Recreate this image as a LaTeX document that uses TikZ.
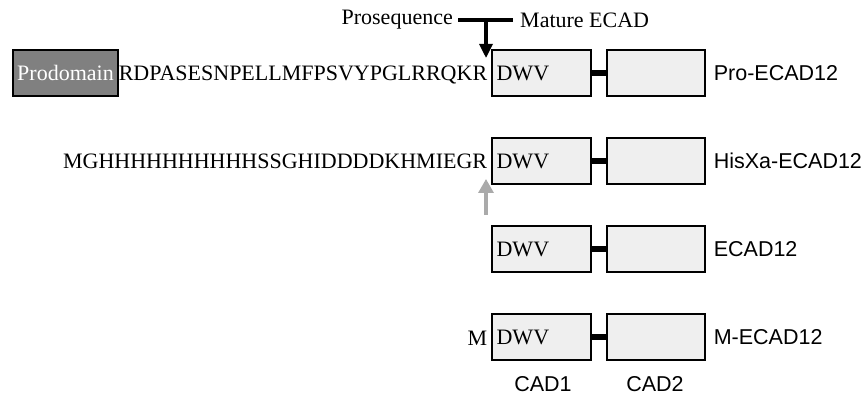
\documentclass[tikz,border=0pt]{standalone}
\usepackage{fontspec}
\setmainfont{Liberation Serif}
\newfontfamily\labsans{Liberation Sans}
\usetikzlibrary{calc,arrows.meta}
\definecolor{boxfill}{HTML}{EFEFEF}
\definecolor{prodfill}{HTML}{808080}
\definecolor{cleave}{HTML}{AAAAAA}
\begin{document}
\begin{tikzpicture}[x=1pt,y=1pt,
  every node/.style={font=\fontsize{22}{24}\selectfont},
  cadbox/.style={draw=black,line width=1.2pt,fill=boxfill,minimum height=46pt,inner sep=0pt},
  cadone/.style={cadbox,minimum width=99pt},
  cadtwo/.style={cadbox,minimum width=98pt},
  linker/.style={line width=5.5pt,black},
  seqtxt/.style={inner sep=0pt,anchor=base east},
  dwvtxt/.style={inner sep=0pt,anchor=base west},
  rowlab/.style={inner sep=0pt,anchor=base west,font=\labsans\fontsize{21.5}{24}\selectfont},
  cadlab/.style={inner sep=0pt,anchor=base,font=\labsans\fontsize{21.5}{24}\selectfont},
  bigarrow/.style={line width=3.2pt,-{Triangle[width=13pt,length=14pt]}},
]
\useasboundingbox (0,0) rectangle (866,395);

% rows
\foreach \r/\y in {a/322,b/234,c/146,d/58}{
  \node[cadone] (c1\r) at (541.5,\y) {};
  \node[cadtwo] (c2\r) at (656,\y) {};
  \draw[linker] (c1\r.east) -- (c2\r.west);
  \node[dwvtxt] (dwv\r) at ($(c1\r.west)+(5,-7.5)$) {DWV};
}

% row 1
\node[draw=black,line width=1.2pt,fill=prodfill,text=white,minimum width=105pt,minimum height=46pt,inner sep=0pt] (prod) at (65.5,322) {Prodomain};
\node[seqtxt] (seqa) at ($(c1a.west)+(-4,-7.5)$) {RDPASESNPELLMFPSVYPGLRRQKR};
\node[rowlab] (laba) at ($(c2a.east)+(8,-7.7)$) {Pro-ECAD12};

% row 2
\node[seqtxt] (seqb) at ($(c1b.west)+(-4,-7.5)$) {MGHHHHHHHHHHSSGHIDDDDKHMIEGR};
\node[rowlab] (labb) at ($(c2b.east)+(8,-7.7)$) {HisXa-ECAD12};

% row 3
\node[rowlab] (labc) at ($(c2c.east)+(8,-7.7)$) {ECAD12};

% row 4
\node[seqtxt] (seqd) at ($(c1d.west)+(-4,-9)$) {M};
\node[rowlab] (labd) at ($(c2d.east)+(8,-7.7)$) {M-ECAD12};

% domain labels
\node[cadlab] (cad1) at (543,3) {CAD1};
\node[cadlab] (cad2) at (655,3) {CAD2};

% cleavage site (top)
\node[inner sep=0pt,anchor=east] (prosq) at (453,375) {Prosequence};
\node[inner sep=0pt,anchor=west] (mature) at (520,375) {Mature ECAD};
\coordinate (junc) at (486,375);
\coordinate (tip) at (486,337);
\draw[line width=3.2pt] ($(prosq.east)+(5,0)$) -- ($(mature.west)+(-7,0)$);
\draw[bigarrow] (junc) -- (tip);

% cleavage site (factor Xa)
\coordinate (gbase) at (486,180);
\coordinate (gtip) at (486,216);
\draw[bigarrow,cleave,-{Triangle[width=15pt,length=14pt]}] (gbase) -- (gtip);
\end{tikzpicture}
\end{document}
